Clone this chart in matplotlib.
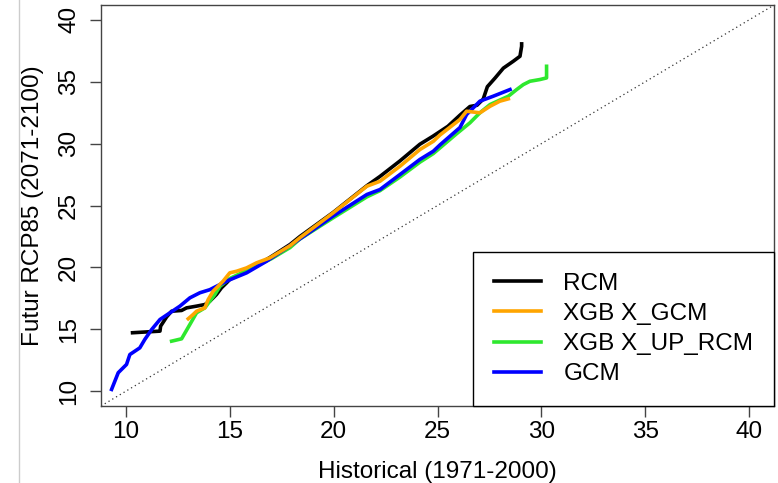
import matplotlib
matplotlib.use('Agg')
import matplotlib.pyplot as plt
from matplotlib.lines import Line2D

# quantile curves: historical (x) vs future RCP85 (y)
rcm_hist = [10.32, 11.64, 11.67, 11.96, 12.2, 12.68, 12.92, 13.4, 13.8, 14.04, 14.36, 14.6, 14.85,
            15.0, 15.97, 16.93, 17.9, 18.38, 19.97, 21.6, 22.23, 23.19, 24.15, 24.78, 25.5, 26.08,
            26.56, 26.9, 27.2, 27.4, 27.77, 28.17, 28.65, 28.97, 29.05, 29.05]
rcm_fut = [14.72, 14.85, 15.25, 16.0, 16.46, 16.52, 16.73, 16.87, 17.0, 17.27, 17.81, 18.35, 18.76,
           19.03, 19.84, 20.8, 21.85, 22.5, 24.43, 26.6, 27.35, 28.6, 29.95, 30.6, 31.4, 32.3,
           33.0, 33.1, 33.6, 34.6, 35.3, 36.1, 36.66, 37.06, 37.87, 38.06]

xgb_gcm_hist = [13.0, 13.24, 13.4, 13.8, 13.96, 14.2, 14.44, 14.68, 15.0, 15.33, 15.81, 16.29, 16.93,
                17.9, 18.38, 19.97, 21.6, 22.23, 23.19, 24.15, 24.8, 25.12, 26.08, 26.4, 27.04,
                27.53, 28.0, 28.41]
xgb_gcm_fut = [15.85, 16.2, 16.46, 16.73, 17.4, 18.08, 18.48, 18.89, 19.56, 19.69, 19.96, 20.37, 20.77,
               21.75, 22.4, 24.4, 26.56, 26.96, 28.17, 29.52, 30.19, 30.7, 31.95, 32.62, 32.49,
               33.02, 33.43, 33.62]

xgb_up_hist = [12.2, 12.68, 13.08, 13.4, 13.8, 14.04, 14.28, 14.53, 15.0, 16.0, 17.0, 17.9, 18.38,
               19.97, 21.6, 22.23, 23.19, 24.15, 24.8, 25.92, 26.56, 27.04, 27.53, 28.41, 28.81,
               29.13, 29.45, 29.93, 30.25, 30.25]
xgb_up_fut = [14.04, 14.23, 15.39, 16.33, 16.73, 17.27, 17.81, 18.48, 19.1, 19.9, 20.7, 21.6, 22.3,
              24.0, 25.7, 26.2, 27.3, 28.5, 29.2, 30.8, 31.68, 32.49, 33.16, 33.83, 34.37,
              34.77, 35.04, 35.18, 35.31, 36.25]

gcm_hist = [9.31, 9.63, 10.03, 10.19, 10.67, 10.91, 11.24, 11.64, 12.12, 12.6, 13.08, 13.56, 14.04,
            14.53, 15.0, 15.81, 16.77, 17.74, 18.38, 19.97, 21.6, 22.23, 23.19, 24.15, 24.8, 25.12,
            25.6, 26.08, 26.4, 27.04, 27.68, 28.49]
gcm_fut = [10.14, 11.49, 12.16, 12.96, 13.5, 14.18, 14.98, 15.79, 16.33, 16.87, 17.54, 17.95, 18.2,
           18.62, 19.0, 19.56, 20.5, 21.58, 22.31, 24.14, 25.89, 26.29, 27.5, 28.72, 29.39, 29.9,
           30.6, 31.3, 32.35, 33.43, 33.83, 34.37]

ticks = [10, 15, 20, 25, 30, 35, 40]

plt.rcParams['font.family'] = ['Liberation Sans', 'DejaVu Sans']

fig = plt.figure(figsize=(7.78, 4.83), dpi=100)
ax = fig.add_axes([0.1298, 0.1594, 0.8651, 0.8302])

ax.plot([8.8, 41.2], [8.8, 41.2], color='#333333', lw=0.9, ls=(0, (1, 2.5)))

ax.plot(rcm_hist, rcm_fut, color='black', lw=2.6, label='RCM')
ax.plot(xgb_up_hist, xgb_up_fut, color='#2ee82e', lw=2.6, label='XGB X_UP_RCM')
ax.plot(gcm_hist, gcm_fut, color='#0000ff', lw=2.6, label='GCM')
ax.plot(xgb_gcm_hist, xgb_gcm_fut, color='#ffa500', lw=2.6, label='XGB X_GCM')

ax.set_xlim(8.8, 41.2)
ax.set_ylim(8.8, 41.2)
ax.set_xticks(ticks)
ax.set_yticks(ticks)
ax.set_yticklabels([str(t) for t in ticks], rotation=90, va='center')
ax.tick_params(axis='both', length=8, width=1, color='#444444', labelsize=17.5)
ax.tick_params(axis='x', pad=3)
ax.tick_params(axis='y', pad=7)
for s in ax.spines.values():
    s.set_color('#444444')
    s.set_linewidth(1)

ax.set_xlabel('Historical (1971-2000)', fontsize=17.5, labelpad=12.5)
ax.set_ylabel('Futur RCP85 (2071-2100)', fontsize=17.5, labelpad=10.5)

handles, labels = ax.get_legend_handles_labels()
order = [0, 3, 1, 2]
leg = ax.legend([handles[i] for i in order], [labels[i] for i in order],
                loc='lower right', fontsize=17.5, frameon=True, fancybox=False,
                edgecolor='black', framealpha=1, borderaxespad=0, borderpad=0.85,
                handlelength=1.95, handletextpad=0.9, labelspacing=0.34)
leg.get_frame().set_linewidth(1)

# thin border line at the left of the page
fig.add_artist(Line2D([19 / 778, 19 / 778], [0, 1], color='#cccccc', lw=1))

fig.savefig('out.png', dpi=100)
